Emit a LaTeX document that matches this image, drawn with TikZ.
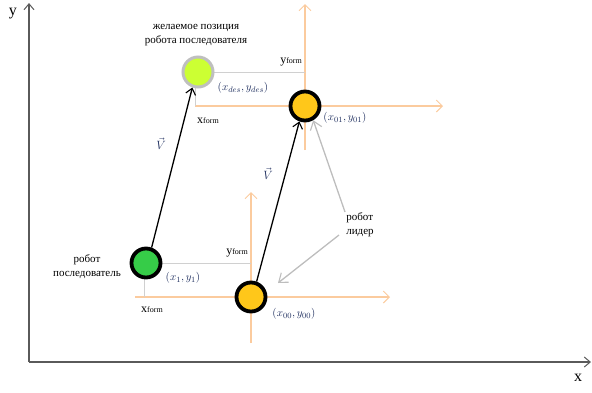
\documentclass[tikz,border=0pt]{standalone}
\usepackage{fontspec}
\setmainfont{Liberation Serif}
\usetikzlibrary{arrows.meta}
\definecolor{peach}{HTML}{FBCB9E}
\definecolor{axisgray}{HTML}{5A5A5A}
\definecolor{lightg}{HTML}{D0D0D0}
\definecolor{arrgray}{HTML}{BDBDBD}
\definecolor{navy}{HTML}{1F2F5F}
\definecolor{gold}{HTML}{FFC71A}
\definecolor{greenf}{HTML}{36CC48}
\definecolor{lime}{HTML}{CCFF33}
\definecolor{ringgray}{HTML}{BFBFBF}
\tikzset{
  robot/.style={circle, draw=black, line width=3.8pt, minimum size=29pt, inner sep=0pt},
  desrobot/.style={circle, draw=ringgray, line width=3pt, fill=lime, minimum size=30pt, inner sep=0pt},
  axisline/.style={draw=axisgray, line width=1.8pt, -{Straight Barb[length=6pt,width=10pt,line width=1pt]}},
  peachax/.style={draw=peach, line width=1.3pt, -{Straight Barb[length=6pt,width=12pt,line width=1pt]}},
  peachline/.style={draw=peach, line width=1.3pt},
  helper/.style={draw=lightg, line width=1pt},
  vec/.style={draw=black, line width=1.3pt, -{Straight Barb[length=6pt,width=10pt,line width=1.1pt]}},
  grayarr/.style={draw=arrgray, line width=1.3pt, -{Straight Barb[length=8pt,width=12pt,line width=1.1pt]}},
  lbl/.style={font=\fontsize{11}{14}\selectfont, align=center, inner sep=0pt},
  mlbl/.style={font=\fontsize{11}{13}\selectfont, text=navy, inner sep=0pt},
  vlbl/.style={font=\fontsize{13}{15}\selectfont, text=navy, inner sep=1pt},
  form/.style={inner sep=0pt, font=\fontsize{12}{13}\selectfont}
}
\newcommand{\formtxt}[1]{#1{\fontsize{8}{9}\selectfont form}}
\begin{document}
\begin{tikzpicture}[x=1pt,y=-1pt]
\useasboundingbox (0,0) rectangle (592,392);
% main axes
\coordinate (O) at (29,362);
\coordinate (ytop) at (29,3);
\coordinate (xend) at (591,362);
\draw[axisline] (O) -- (ytop);
\draw[axisline] (O) -- (xend);
\node[font=\fontsize{16}{16}\selectfont, inner sep=0pt] (ylab) at (13,14) {y};
\node[font=\fontsize{16}{16}\selectfont, inner sep=0pt] (xlab) at (578,378) {x};

% robot positions
\coordinate (desc) at (198,72);
\coordinate (l1c) at (305,106);
\coordinate (fc) at (146,263);
\coordinate (l0c) at (251,297);

% peach axes at leader 01
\coordinate (l1top) at (305,4);
\coordinate (l1bot) at (305,150);
\coordinate (l1left) at (195,106);
\coordinate (l1right) at (443,106);
\draw[peachax] (l1bot) -- (l1top);
\draw[peachax] (l1left) -- (l1right);

% peach axes at leader 00
\coordinate (l0top) at (251,192);
\coordinate (l0bot) at (251,343);
\coordinate (l0left) at (135,297);
\coordinate (l0right) at (390,297);
\draw[peachax] (l0bot) -- (l0top);
\draw[peachax] (l0left) -- (l0right);

% helper gray lines
\coordinate (desyend) at (305,72);
\coordinate (desxend) at (195,106);
\coordinate (fyend) at (251,263);
\coordinate (fxend) at (144,297);
\draw[helper] (desc) -- (desyend);
\draw[helper] (195,80) -- (desxend);
\draw[helper] (fc) -- (fyend);
\draw[helper] (144,270) -- (fxend);

% robots
\node[desrobot] (des) at (desc) {};
\node[robot, fill=gold] (l1) at (l1c) {};
\node[robot, fill=greenf] (f) at (fc) {};
\node[robot, fill=gold] (l0) at (l0c) {};

% velocity vectors
\draw[vec] (f.70) -- (des.250);
\draw[vec] (l0.70) -- (l1.250);
\node[vlbl] (v1) at (161,144) {$\vec{V}$};
\node[vlbl] (v2) at (268,174) {$\vec{V}$};

% labels
\node[lbl] (deslab) at (196,35) {желаемое позиция\\робота последователя};
\node[lbl] (flab) at (87,267) {робот\\последователь};
\node[lbl, align=left] (leadlab) at (360,225) {робот\\лидер};

\node[mlbl] (desco) at (243,88) {$(x_{des}, y_{des})$};
\node[mlbl] (l1co) at (345,118) {$(x_{01}, y_{01})$};
\node[mlbl] (fco) at (183,278) {$(x_1, y_1)$};
\node[mlbl] (l0co) at (294,314) {$(x_{00}, y_{00})$};

\node[form, anchor=east] (yf1) at (302,62) {\formtxt{y}};
\node[form] (xf1) at (208,121) {\formtxt{x}};
\node[form, anchor=east] (yf2) at (248,253) {\formtxt{y}};
\node[form] (xf2) at (152,310) {\formtxt{x}};

% gray arrows from leader label
\coordinate (ga1) at (345,212);
\coordinate (ga2) at (339,235);
\draw[grayarr] (ga1) -- (l1.-60);
\draw[grayarr] (ga2) -- (278,283);
\end{tikzpicture}
\end{document}
